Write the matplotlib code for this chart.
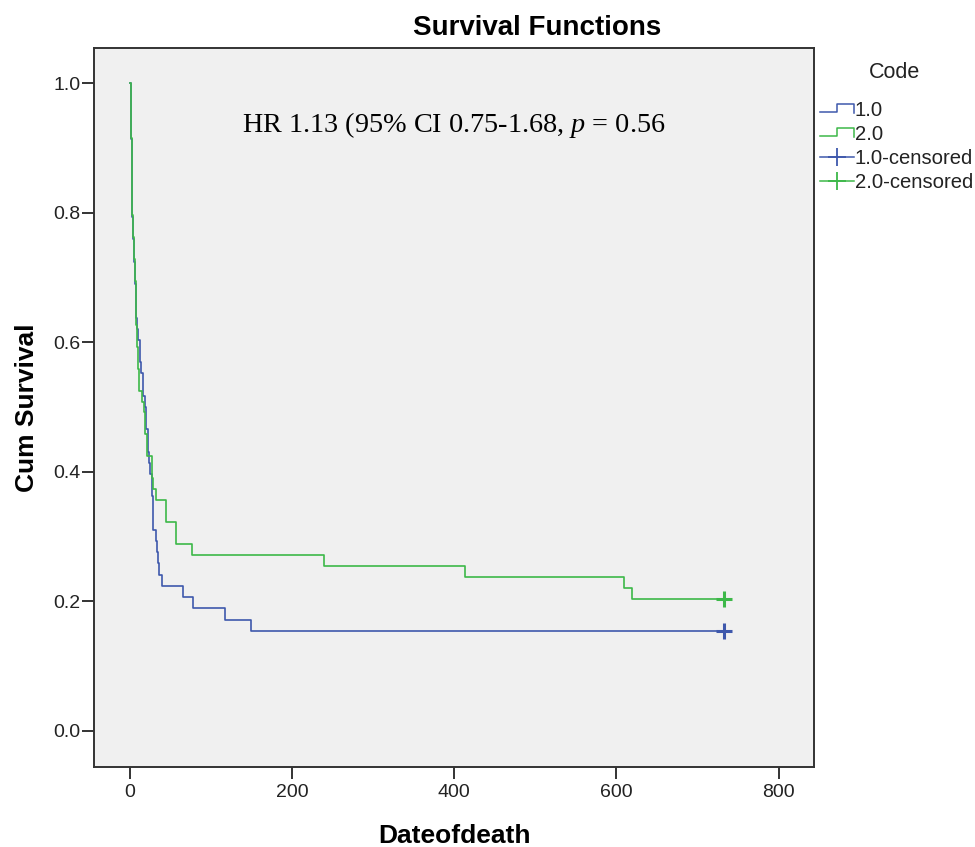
#!/usr/bin/python

import matplotlib
matplotlib.use("Agg")
import matplotlib.pyplot as plt
from matplotlib.lines import Line2D
from matplotlib.legend_handler import HandlerBase

plt.rcParams["font.family"] = ["Liberation Sans", "DejaVu Sans"]
plt.rcParams["mathtext.fontset"] = "custom"
plt.rcParams["mathtext.rm"] = "Liberation Serif"
plt.rcParams["mathtext.it"] = "Liberation Serif:italic"


# Kaplan-Meier steps (time in days, cum survival after step)
code1_time = [0, 1, 2, 3, 4, 5, 6, 7, 8, 9, 10, 12, 14, 16, 18, 20, 22, 24, 25,
              27, 28, 29, 32, 33, 34, 36, 39, 66, 78, 117, 149, 732]
code1_surv = [1.0, 0.914, 0.845, 0.793, 0.759, 0.724, 0.690, 0.672, 0.638, 0.621,
              0.603, 0.569, 0.552, 0.517, 0.500, 0.466, 0.431, 0.414, 0.397, 0.362,
              0.328, 0.310, 0.293, 0.276, 0.259, 0.241, 0.224, 0.207, 0.190, 0.172,
              0.155, 0.155]

code2_time = [0, 1, 2, 3, 4, 5, 6, 7, 8, 9, 10, 11, 15, 17, 19, 21, 27, 29, 32,
              44, 57, 76, 239, 413, 609, 619, 732]
code2_surv = [1.0, 0.915, 0.847, 0.797, 0.763, 0.729, 0.695, 0.661, 0.627, 0.593,
              0.559, 0.525, 0.508, 0.492, 0.458, 0.424, 0.390, 0.373, 0.356, 0.322,
              0.288, 0.271, 0.254, 0.237, 0.220, 0.203, 0.203]

# censored observations (last follow-up)
code1_cens = [732]
code2_cens = [732]

x_ticks = [0, 200, 400, 600, 800]
y_ticks = [0.0, 0.2, 0.4, 0.6, 0.8, 1.0]

blue = "#3E58AC"
green = "#3DB849"


class _StepHandler(HandlerBase):
  """
  Legend key drawn as a small step, like SPSS does.
  """

  def create_artists(self, legend, orig, xd, yd, w, h, fontsize, trans):
    xs = [xd, xd + 0.5*w, xd + 0.5*w, xd + w, xd + w]
    ys = [yd + 0.25*h, yd + 0.25*h, yd + 0.85*h, yd + 0.85*h, yd + 0.2*h]
    ln = Line2D(xs, ys, color=orig.get_color(), lw=1.1, transform=trans)
    return [ln]


def main():
  fig = plt.figure(figsize=(9.75, 8.47), dpi=100)
  ax = fig.add_axes([0.0967, 0.0945, 0.7385, 0.8485])
  ax.set_facecolor("#F0F0F0")

  ax.step(code1_time, code1_surv, where='post', color=blue, lw=1.2)
  ax.step(code2_time, code2_surv, where='post', color=green, lw=1.2)

  ax.plot(code1_cens, [code1_surv[-1]]*len(code1_cens), '+', color=blue,
          ms=11, mew=2.2)
  ax.plot(code2_cens, [code2_surv[-1]]*len(code2_cens), '+', color=green,
          ms=11, mew=2.2)

  ax.set_xlim(-44, 844)
  ax.set_ylim(-0.0556, 1.054)
  ax.set_xticks(x_ticks)
  ax.set_yticks(y_ticks)
  ax.set_yticklabels([f"{v:.1f}" for v in y_ticks])
  ax.tick_params(direction='out', length=8.5, width=1.4, color="#333333",
                 labelsize=14, labelcolor="#222222")
  ax.tick_params(axis='y', pad=1.5)
  ax.tick_params(axis='x', pad=4)
  for sp in ax.spines.values():
    sp.set_color("#333333")
    sp.set_linewidth(1.4)

  ax.set_xlabel("Dateofdeath", fontsize=19, fontweight='bold', labelpad=16)
  ax.set_ylabel("Cum Survival", fontsize=19, fontweight='bold', labelpad=10)

  fig.text(0.551, 0.967, "Survival Functions", ha='center', va='center',
           fontsize=20, fontweight='bold')

  ax.text(0.205, 0.893, r"HR 1.13 (95% CI 0.75-1.68, $p$ = 0.56",
          transform=ax.transAxes, ha='left', va='center',
          family=["Liberation Serif"], fontsize=20.3)

  # legend title placed by hand, SPSS leaves a wide gap under it
  fig.text(0.917, 0.914, "Code", ha='center', va='center', fontsize=15.5,
           color="#222222")

  k1 = Line2D([], [], color=blue)
  k2 = Line2D([], [], color=green)
  k3 = Line2D([], [], color=blue, lw=1.1, marker='+', ms=13, mew=1.3)
  k4 = Line2D([], [], color=green, lw=1.1, marker='+', ms=13, mew=1.3)
  leg = ax.legend([k1, k2, k3, k4],
                  ["1.0", "2.0", "1.0-censored", "2.0-censored"],
                  loc='upper left', bbox_to_anchor=(1.008, 0.927),
                  frameon=False, fontsize=14.6,
                  handlelength=1.65, handletextpad=0.05, labelspacing=0.25,
                  borderaxespad=0.0, borderpad=0.0,
                  handler_map={k1: _StepHandler(), k2: _StepHandler()})
  for t in leg.get_texts():
    t.set_color("#222222")

  fig.savefig("out.png", dpi=100)


if __name__ == "__main__":
  main()
